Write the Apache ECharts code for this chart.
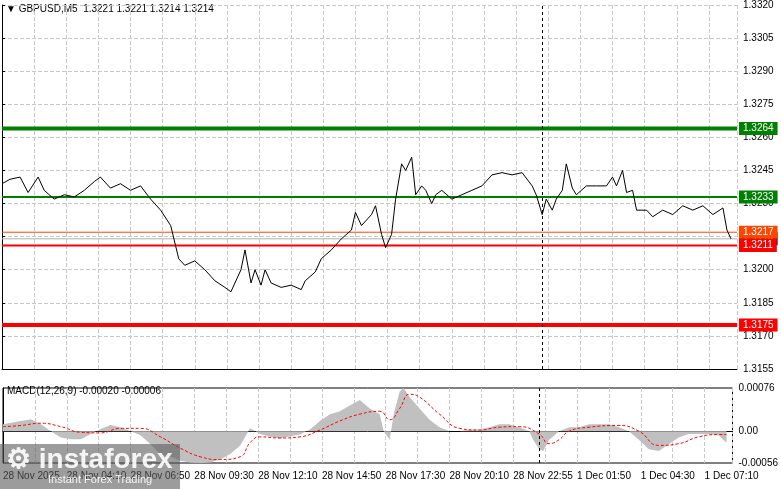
<!DOCTYPE html>
<html><head><meta charset="utf-8">
<script src="https://cdn.jsdelivr.net/npm/echarts@6/dist/echarts.min.js"></script>
<style>html,body{margin:0;padding:0;background:#fff}#c{width:781px;height:489px}</style>
</head><body><div id="c"></div>
<script>
const timeLabels = ['28 Nov 2025','28 Nov 04:10','28 Nov 06:50','28 Nov 09:30','28 Nov 12:10','28 Nov 14:50','28 Nov 17:30','28 Nov 20:10','28 Nov 22:55','1 Dec 01:50','1 Dec 04:30','1 Dec 07:10'];
const priceIdx = [0,4,9,13,18,21,26,31,36,41, 46,49,54,59,64,69,74,79,84,88, 91,96,101,106,111,114,119,121,124,126, 129,131,134,139,144,149,151,156,159,164, 169,174,176,179,184,186,189,191,194,196, 199,201,204,206,209,211,214,216,219,224, 229,234,239,244,249,254,259,264,266,269, 271,274,276,279,281,284,286,291,296,301, 304,306,309,311,314,316,321,324,329,334, 339,344,349,354,359,361,363];
const closes = [1.3239,1.3241,1.3242,1.3235,1.3242,1.3236,1.3232,1.3234,1.3233,1.3236, 1.3240,1.3242,1.3237,1.3239,1.3236,1.3238,1.3232,1.3227,1.3220,1.3205, 1.3202,1.3204,1.3200,1.3195,1.3192,1.3190,1.3200,1.3209,1.3194,1.3200, 1.3193,1.3200,1.3194,1.3192,1.3193,1.3191,1.3195,1.3199,1.3205,1.3209, 1.3214,1.3218,1.3226,1.3220,1.3225,1.3229,1.3216,1.3210,1.3216,1.3232, 1.3248,1.3245,1.3251,1.3234,1.3238,1.3236,1.3230,1.3234,1.3236,1.3232, 1.3234,1.3236,1.3238,1.3243,1.3244,1.3243,1.3244,1.3238,1.3234,1.3225, 1.3232,1.3227,1.3232,1.3236,1.3248,1.3237,1.3234,1.3238,1.3238,1.3238, 1.3242,1.3238,1.3245,1.3235,1.3236,1.3227,1.3227,1.3224,1.3227,1.3225, 1.3229,1.3227,1.3229,1.3225,1.3228,1.3218,1.3214];
const macdIdx = [0,9,14,19,24,29,34,39,44,49,54,59,64,69,74,79,84,89,94,99,104,109,114,119,124,129,134,139,144,149,154,159,164,169,174,179,184,189,191,194,196,199,201,204,209,214,219,224,229,234,239,244,249,254,259,264,266,269,271,274,279,284,289,294,299,304,309,314,319,324,329,334,339,344,349,354,359,361,363];
const macdHist = [0.00012,0.00018,0.00021,0.00012,0,-0.00011,-0.00014,-0.00014,-0.00005,0.00004, 0.00011,0.00007,0,-0.00007,-0.00023,-0.00041,-0.00045,-0.00052,-0.00055,-0.00056, -0.00055,-0.00050,-0.00040,-0.00025,0.00005,-0.00005,-0.00010,-0.00013,-0.00009,-0.00006, 0.00003,0.00018,0.00030,0.00035,0.00045,0.00055,0.00040,0.00030,0,-0.00015, 0.00030,0.00070,0.00076,0.00060,0.00040,0.00020,0.00007,0,0,0.00003, 0.00003,0.00007,0.00012,0.00012,0.00007,0,-0.00015,-0.00032,-0.00035,-0.00015, 0,0.00007,0.00007,0.00012,0.00012,0.00012,0.00007,0,-0.00015,-0.00032, -0.00035,-0.00023,-0.00011,-0.00005,-0.00005,-0.00005,-0.00007,-0.00014,-0.00020];
const sigIdx = [0,9,19,29,39,49,59,69,79,89,99,109,119,124,129,139,149,159,169,179,189,194,199,204,209,219,229,239,249,259,269,274,279,284,294,309,319,329,339,349,359,363];
const signal = [0.00008,0.00010,0.00014,0.00008,-0.00002,-0.00003,0.00005,0.00005,-0.00010,-0.00030,-0.00045,-0.00050,-0.00045,-0.00020,-0.00010,-0.00012,-0.00010,0.00002,0.00018,0.00030,0.00035,0.00020,0.00040,0.00065,0.00060,0.00030,0.00005,0.00002,0.00007,0.00008,-0.00005,-0.00022,-0.00015,0,0.00007,0.00010,0,-0.00025,-0.00022,-0.00010,-0.00006,-0.00006];
const priceTicks = {min:1.3155, max:1.3320, step:0.0015};
const levelValues = [1.3264, 1.3233, 1.3217, 1.3214, 1.3211, 1.3175];
const levelColors = ['#008000','#008000','#ff4500','#b0b0b0','#ff0000','#ff0000'];
const levelWidths = [4,2,1,1,2,4];
const nowIdx = 269;
const FONT = 'Liberation Sans';
const chart = echarts.init(document.getElementById('c'));
const xCommon = {type:'value', min:0, max:366, interval:16,
  splitLine:{show:true, lineStyle:{type:'dashed', color:'#c8c8c8'}},
  axisLine:{show:true, lineStyle:{color:'#000'}}};
const levelSeries = levelValues.map((v,i)=>({
  type:'line', xAxisIndex:0, yAxisIndex:0, symbol:'none', silent:true, z: i===3?1:3,
  lineStyle:{color:levelColors[i], width:levelWidths[i]},
  data:[[0,v],[366,v]],
  endLabel:{show:true, distance:2, formatter:v.toFixed(4), color:'#fff',
    backgroundColor: i===3?'#000':levelColors[i], fontSize:10, fontFamily:FONT, padding:[2,4,1,4]}
}));
chart.setOption({
  animation:false,
  graphic:[
    {type:'text', left:6, top:4, style:{text:'▼ GBPUSD,M5  1.3221 1.3221 1.3214 1.3214', fill:'#000', font:'10px '+FONT}},
    {type:'text', left:7, top:386, style:{text:'MACD(12,26,9) -0.00020 -0.00006', fill:'#000', font:'10px '+FONT}},
    {type:'rect', left:0, top:444, z:99, shape:{width:180, height:45}, style:{fill:'rgba(90,90,90,0.6)'}},
    {type:'text', left:6, top:446, z:100, style:{text:'⚙ instaforex', fill:'rgba(255,255,255,0.9)', font:'bold 28px '+FONT}},
    {type:'text', left:48, top:474, z:100, style:{text:'Instant Forex Trading', fill:'rgba(255,255,255,0.9)', font:'11px '+FONT}}
  ],
  grid:[
    {left:2, right:44, top:5, height:364, show:false},
    {left:2, right:44, top:388, height:75, show:true, borderColor:'#000', borderWidth:1}
  ],
  xAxis:[
    Object.assign({gridIndex:0, axisLabel:{show:false}, axisTick:{show:false}, axisLine:{show:false}}, xCommon),
    Object.assign({gridIndex:1, axisTick:{show:false}, axisLabel:{color:'#000', fontSize:10, fontFamily:FONT, align:'left', margin:8,
      formatter:v=> v%32===0 ? (timeLabels[v/32]||'') : ''}}, xCommon)
  ],
  yAxis:[
    {gridIndex:0, type:'value', position:'right', min:priceTicks.min, max:priceTicks.max, interval:priceTicks.step,
     axisLine:{show:true, lineStyle:{color:'#000'}}, axisTick:{show:true, length:3},
     axisLabel:{color:'#000', fontSize:10, fontFamily:FONT, margin:6, formatter:v=>v.toFixed(4)},
     splitLine:{show:true, lineStyle:{type:'dashed', color:'#c8c8c8'}}},
    {gridIndex:1, type:'value', position:'right', min:-0.00056, max:0.00076,
     axisLine:{show:true, lineStyle:{color:'#000'}}, axisTick:{show:false},
     axisLabel:{color:'#000', fontSize:10, fontFamily:FONT, margin:6, customValues:[-0.00056,0,0.00076],
       formatter:v=> v===0 ? '0.00' : v.toFixed(5)},
     splitLine:{show:false}}
  ],
  series:[
    {type:'line', xAxisIndex:0, yAxisIndex:0, symbol:'none', z:5, lineStyle:{color:'#000', width:1},
     data: priceIdx.map((x,i)=>[x,closes[i]]),
     markLine:{symbol:'none', silent:true, animation:false,
       data:[{xAxis:nowIdx, lineStyle:{color:'#000', width:1, type:[3,3]}, label:{show:false}}]}},
    ...levelSeries,
    {type:'line', xAxisIndex:1, yAxisIndex:1, symbol:'none', lineStyle:{width:0},
     areaStyle:{color:'#c0c0c0', opacity:1}, data: macdIdx.map((x,i)=>[x,macdHist[i]]),
     markLine:{symbol:'none', silent:true, data:[{xAxis:nowIdx, lineStyle:{color:'#000', width:1, type:[3,3]}, label:{show:false}}]}},
    {type:'line', xAxisIndex:1, yAxisIndex:1, symbol:'none', smooth:true, lineStyle:{color:'#ff0000', width:1, type:[3,2]},
     data: sigIdx.map((x,i)=>[x,signal[i]])}
  ]
});
</script></body></html>
